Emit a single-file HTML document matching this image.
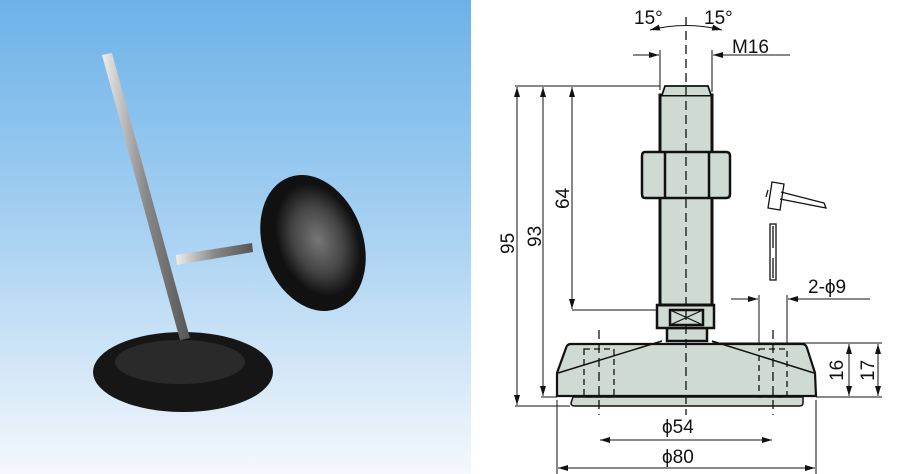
<!DOCTYPE html>
<html><head><meta charset="utf-8"><style>
html,body{margin:0;padding:0;background:#fff;width:902px;height:474px;overflow:hidden}
</style></head><body>
<svg width="902" height="474" viewBox="0 0 902 474" xmlns="http://www.w3.org/2000/svg" font-family="Liberation Sans, sans-serif">
<defs>
<linearGradient id="bg" x1="0" y1="0" x2="0" y2="1">
<stop offset="0" stop-color="#6cb2e8"/><stop offset="0.5" stop-color="#a9d2f2"/><stop offset="1" stop-color="#f5f8fc"/>
</linearGradient>
<radialGradient id="disc" cx="0.5" cy="0.5" r="0.5"><stop offset="0" stop-color="#777"/><stop offset="0.6" stop-color="#444"/><stop offset="1" stop-color="#111"/></radialGradient>
<linearGradient id="rod" x1="0" y1="0" x2="1" y2="0"><stop offset="0" stop-color="#eee"/><stop offset="0.5" stop-color="#888"/><stop offset="1" stop-color="#555"/></linearGradient>
<marker id="ar" viewBox="0 0 10 6" refX="10" refY="3" markerWidth="10" markerHeight="6" orient="auto-start-reverse" markerUnits="userSpaceOnUse"><path d="M0,0L10,3L0,6z" fill="#111"/></marker>
</defs>
<rect x="0" y="0" width="471" height="474" fill="url(#bg)"/>
<!-- photo product -->
<ellipse cx="183" cy="372" rx="90" ry="40" fill="#161616"/>
<ellipse cx="180" cy="362" rx="65" ry="22" fill="#2a2a2a"/>
<polygon points="102,55 112,53 190,338 180,340" fill="url(#rod)"/>
<polygon points="176,255 252,243 253,252 177,265" fill="url(#rod)"/>
<ellipse cx="313" cy="243" rx="50" ry="70" transform="rotate(-20 313 243)" fill="#111"/>
<ellipse cx="318" cy="240" rx="40" ry="58" transform="rotate(-20 318 240)" fill="url(#disc)"/>
<!-- drawing -->
<g stroke="#111" fill="none">
<path d="M571,344 L802,344 Q806,344 807,348 L815,373 L816,396 L557,396 L557,373 L566,348 Q567,344 571,344Z" fill="#cfdad3" stroke-width="2.2"/>
<path d="M573,397 L803,397 L803,403 Q803,406 799,406 L575,406 Q571,406 571,403Z" fill="#cfdad3" stroke-width="1.5"/>
<path d="M558,373 L662,341 M712,341 L814,373" stroke-width="1.5"/>
<rect x="667" y="328" width="40" height="13" fill="#cfdad3" stroke-width="2.5"/>
<rect x="657" y="305" width="57" height="23" fill="#cfdad3" stroke-width="2.5"/>
<rect x="670" y="310" width="33" height="15" stroke-width="2.5"/>
<path d="M670,310L703,325M703,310L670,325" stroke-width="1.2"/>
<rect x="660" y="95" width="52" height="210" fill="#cfdad3" stroke-width="3"/>
<path d="M662,95 L665,86 L708,86 L711,95" fill="#cfdad3" stroke-width="1.8"/>
<path d="M645,152 L726,152 Q730,152 730,156 L730,194 Q730,198 726,198 L645,198 Q642,198 642,194 L642,156 Q642,152 645,152Z" fill="#cfdad3" stroke-width="2.5"/>
<path d="M665,152V198M709,152V198" stroke-width="2.5"/>
<g stroke-dasharray="6,4" stroke-width="1.3">
<path d="M584,349H614V397H584Z M759,349H787V397H759Z"/>
<path d="M686,17V415 M599,330V415 M773,330V415" stroke-dasharray="9,5"/>
</g>
<g stroke-width="1">
<path d="M515,86H660 M541,86H600 M572,310H657 M515,406H570 M541,397H557"/>
<path d="M517,87V405" marker-start="url(#ar)" marker-end="url(#ar)"/>
<path d="M543,87V396" marker-start="url(#ar)" marker-end="url(#ar)"/>
<path d="M572,87V309" marker-start="url(#ar)" marker-end="url(#ar)"/>
<path d="M660,50V90 M712,50V92"/>
<path d="M633,55H659" marker-end="url(#ar)"/>
<path d="M790,55H713" marker-end="url(#ar)"/>
<path d="M650,30 Q686,21 722,30" marker-start="url(#ar)" marker-end="url(#ar)"/>
<path d="M759,295V343 M787,295V343"/>
<path d="M731,299H758" marker-end="url(#ar)"/>
<path d="M870,299H788" marker-end="url(#ar)"/>
<path d="M712,343H882 M816,397H882"/>
<path d="M849,344V396" marker-start="url(#ar)" marker-end="url(#ar)"/>
<path d="M878,344V396" marker-start="url(#ar)" marker-end="url(#ar)"/>
<path d="M557,400V474 M816,400V474"/>
<path d="M600,440H772" marker-start="url(#ar)" marker-end="url(#ar)"/>
<path d="M558,468H815" marker-start="url(#ar)" marker-end="url(#ar)"/>
</g>
<g stroke-width="1.3">
<path d="M772,182 L784,184 L780,210 L768,208Z"/>
<path d="M768,190 L766,197 M781,192 L824,203 L826,208 L780,199"/>
<rect x="770" y="224" width="6" height="56"/>
<path d="M773,226V248 M773,258V278"/>
</g>
</g>
<g fill="#111" font-size="19">
<text x="634" y="24">15°</text>
<text x="704" y="24">15°</text>
<text x="732" y="53">M16</text>
<text x="808" y="293">2-ϕ9</text>
<text x="662" y="433">ϕ54</text>
<text x="662" y="463">ϕ80</text>
<text transform="translate(514,254) rotate(-90)">95</text>
<text transform="translate(541,247) rotate(-90)">93</text>
<text transform="translate(569,209) rotate(-90)">64</text>
<text transform="translate(843,381) rotate(-90)">16</text>
<text transform="translate(874,381) rotate(-90)">17</text>
</g>
</svg>
</body></html>
